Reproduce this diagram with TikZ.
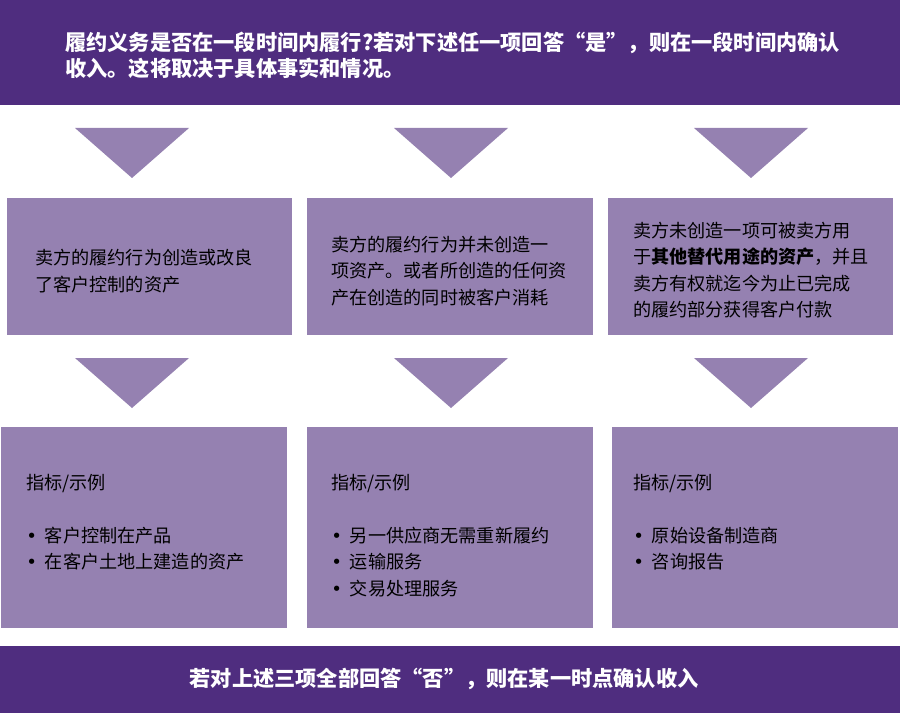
\documentclass[tikz,border=0pt]{standalone}
\usepackage{fontspec}
\setmainfont{Noto Sans CJK SC}
\newfontfamily\dotfont{DejaVu Sans}
\definecolor{cdark}{RGB}{79,45,127}
\definecolor{clight}{RGB}{149,129,177}
\newcommand{\itm}{\\{\dotfont •}\hspace{6pt}}
\tikzset{flow/.style={x=0.75pt,y=-0.75pt},
  boxtext/.style={align=left,inner sep=0pt,font=\fontsize{13.6}{19.8}\selectfont},
  bantext/.style={text=white,inner sep=0pt,font=\fontsize{15.9}{19.5}\selectfont\bfseries}}

\begin{document}
\begin{tikzpicture}[flow]
    \useasboundingbox (0,0) rectangle (900,713);
    \fill[cdark] (0,0) rectangle (900,105);                                   % question
    \fill[cdark] (0,646) rectangle (900,713);                                 % otherwise
    \foreach \c in {132,451,751} {
      \fill[clight] ({\c-57},128) -- ({\c+57},128) -- (\c,178) -- cycle;
      \fill[clight] ({\c-57},358) -- ({\c+57},358) -- (\c,408) -- cycle;
    }
    \fill[clight] (7,198) rectangle (292,335);
    \fill[clight] (307,198) rectangle (593,335);
    \fill[clight] (608,198) rectangle (893,335);
    \fill[clight] (1,427) rectangle (287,628);
    \fill[clight] (307,427) rectangle (593,628);
    \fill[clight] (612,427) rectangle (898,628);
    \node[bantext,align=left,anchor=west] (head) at (65,55)
      {履约义务是否在一段时间内履行?若对下述任一项回答“是”，则在一段时间内确认\\收入。这将取决于具体事实和情况。};
    \node[bantext] (foot) at (444,679) {若对上述三项全部回答“否”，则在某一时点确认收入};
    \node[boxtext,anchor=west] (q1) at (35,271) {卖方的履约行为创造或改良\\了客户控制的资产};
    \node[boxtext,anchor=west] (q2) at (331,271) {卖方的履约行为并未创造一\\项资产。或者所创造的任何资\\产在创造的同时被客户消耗};
    \node[boxtext,anchor=west] (q3) at (633,270)
      {卖方未创造一项可被卖方用\\于\textbf{其他替代用途的资产}，并且\\卖方有权就迄今为止已完成\\的履约部分获得客户付款};
    \node[boxtext,anchor=north west] (ex1) at (26,474)
      {指标/示例\\\itm 客户控制在产品\itm 在客户土地上建造的资产};
    \node[boxtext,anchor=north west] (ex2) at (331,474)
      {指标/示例\\\itm 另一供应商无需重新履约\itm 运输服务\itm 交易处理服务};
    \node[boxtext,anchor=north west] (ex3) at (633,474)
      {指标/示例\\\itm 原始设备制造商\itm 咨询报告};
  \end{tikzpicture}
\end{document}
